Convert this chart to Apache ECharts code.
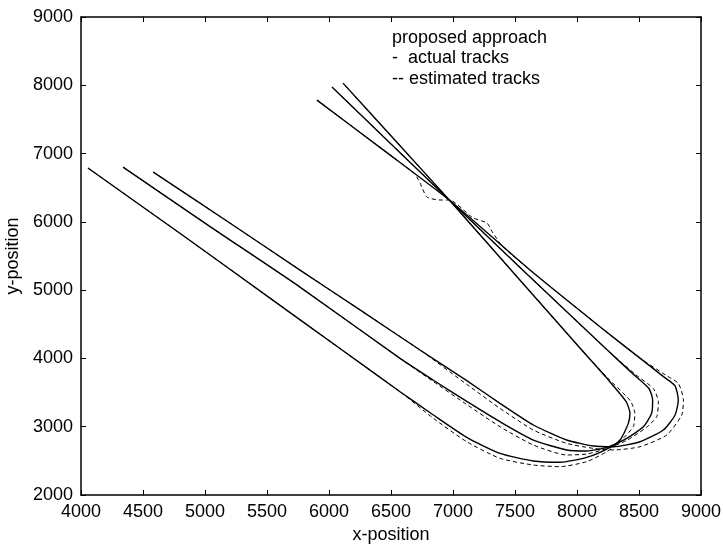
<!DOCTYPE html>
<html>
<head>
<meta charset="utf-8">
<script src="https://cdn.jsdelivr.net/npm/echarts@6/dist/echarts.min.js"></script>
<style>
  html, body { margin: 0; padding: 0; background: #fff; }
  #main { width: 723px; height: 544px; }
</style>
</head>
<body>
<div id="main"></div>
<script>
// 轨迹数据 [x, y]
var trackAActual = [[4056,6788],[4800,5830],[5524,4884],[6100,4130],[6573,3512],[6842,3171],[7111,2845],[7379,2610],[7648,2498],[7863,2479],[8078,2552],[8240,2673],[8347,2805],[8414,3049],[8427,3200],[8395,3370],[8250,3690],[8038,4123],[7500,5230],[6970,6320],[6540,7180],[6113,8032]];
var trackAEstimated = [[4056,6788],[4800,5830],[5524,4884],[6100,4130],[6573,3512],[6842,3123],[7111,2780],[7379,2537],[7648,2439],[7863,2415],[8078,2488],[8240,2634],[8350,2790],[8454,3000],[8466,3200],[8430,3380],[8255,3700],[8038,4123],[7500,5230],[6970,6320],[6540,7180],[6113,8032]];

var trackBActual = [[4339,6802],[5050,5920],[5766,5045],[6573,4000],[6842,3680],[7111,3370],[7379,3073],[7648,2805],[7917,2659],[8078,2644],[8240,2698],[8401,2830],[8535,3000],[8602,3196],[8610,3391],[8580,3560],[8454,3770],[8240,4130],[7600,5230],[6970,6320],[6500,7140],[6024,7974]];
var trackBEstimated = [[4339,6802],[5050,5920],[5766,5045],[6573,4000],[6842,3660],[7111,3325],[7379,3000],[7648,2732],[7917,2586],[8078,2600],[8240,2680],[8401,2800],[8560,2990],[8643,3147],[8656,3366],[8615,3560],[8475,3760],[8240,4130],[7600,5230],[6970,6320],[6500,7140],[6024,7974]];

var trackCActual = [[4583,6729],[5170,6020],[5766,5294],[6250,4710],[6734,4123],[7111,3675],[7379,3342],[7648,3025],[7917,2805],[8132,2717],[8293,2707],[8508,2780],[8696,2951],[8791,3171],[8817,3391],[8790,3600],[8700,3730],[8500,4015],[8185,4464],[7621,5294],[6970,6320],[6440,7050],[5903,7783]];
var trackCEstimated = [[4583,6729],[5170,6020],[5766,5294],[6250,4710],[6734,4123],[7111,3620],[7379,3269],[7648,2951],[7917,2756],[8132,2683],[8300,2660],[8508,2707],[8723,2878],[8845,3171],[8858,3391],[8817,3635],[8720,3750],[8500,4015],[8185,4464],[7621,5294],[7400,5640],[7323,5836],[7274,5982],[7160,6060],[6970,6320],[6895,6320],[6790,6363],[6734,6568],[6690,6705],[6440,7050],[5903,7783]];

var legendLines = ['proposed approach', '-  actual tracks', '-- estimated tracks'];

var font = 'Liberation Sans, Arial, Helvetica, sans-serif';
var myChart = echarts.init(document.getElementById('main'));

var solid = function(d){
  return { type: 'line', data: d, showSymbol: false, smooth: 0.2, silent: true,
    lineStyle: { color: '#000', width: 1.4, type: 'solid' } };
};
var dashed = function(d){
  return { type: 'line', data: d, showSymbol: false, smooth: 0.2, silent: true,
    lineStyle: { color: '#000', width: 1, type: [4, 3] } };
};

var axisBase = {
  type: 'value',
  axisLine: { show: true, lineStyle: { color: '#000', width: 1.5 } },
  axisTick: { show: true, inside: true, length: 5, lineStyle: { color: '#000', width: 1 } },
  splitLine: { show: false }
};
var plain = function(v){ return String(v); };

var option = {
  animation: false,
  backgroundColor: '#fff',
  grid: { left: 81, right: 22, top: 17, bottom: 49, containLabel: false, outerBoundsMode: 'none' },
  xAxis: [
    Object.assign({}, axisBase, {
      min: 4000, max: 9000, interval: 500, position: 'bottom',
      name: 'x-position', nameLocation: 'middle', nameGap: 27,
      nameTextStyle: { color: '#000', fontSize: 18, fontFamily: font },
      axisLabel: { color: '#000', fontSize: 18, fontFamily: font, margin: 8, formatter: plain }
    }),
    Object.assign({}, axisBase, {
      min: 4000, max: 9000, interval: 500, position: 'top',
      axisLabel: { show: false }
    })
  ],
  yAxis: [
    Object.assign({}, axisBase, {
      min: 2000, max: 9000, interval: 1000, position: 'left',
      name: 'y-position', nameLocation: 'middle', nameGap: 52,
      nameTextStyle: { color: '#000', fontSize: 18, fontFamily: font },
      axisLabel: { color: '#000', fontSize: 18, fontFamily: font, margin: 8, formatter: plain }
    }),
    Object.assign({}, axisBase, {
      min: 2000, max: 9000, interval: 1000, position: 'right',
      axisLabel: { show: false }
    })
  ],
  graphic: legendLines.map(function(t, i){
    return { type: 'text', left: 392, top: 29 + i * 20.5, silent: true,
      style: { text: t, fill: '#000', fontSize: 18, fontFamily: font } };
  }),
  series: [
    solid(trackAActual), dashed(trackAEstimated),
    solid(trackBActual), dashed(trackBEstimated),
    solid(trackCActual), dashed(trackCEstimated)
  ]
};
myChart.setOption(option);
</script>
</body>
</html>
